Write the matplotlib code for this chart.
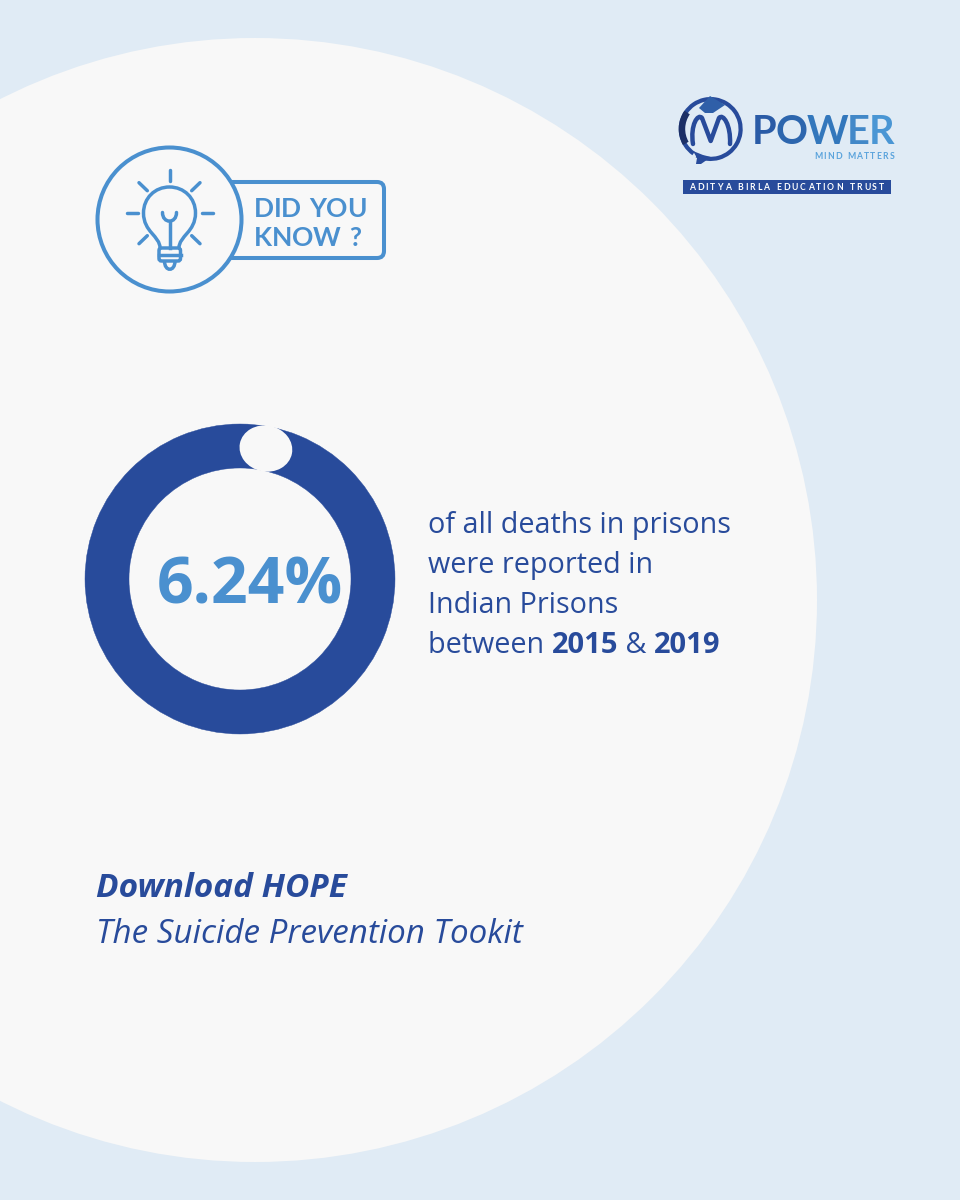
import matplotlib
matplotlib.use("Agg")
import matplotlib.pyplot as plt
import numpy as np
from matplotlib.patches import Circle, Wedge, FancyBboxPatch, PathPatch, Rectangle, Polygon, Ellipse
from matplotlib.path import Path

# ---- data ----
share_pct = 6.24
share_label = "6.24%"
desc_lines = ["of all deaths in prisons", "were reported in", "Indian Prisons"]
year_start = "2015"
year_end = "2019"
cta_bold = "Download HOPE"
cta_light = "The Suicide Prevention Tookit"
logo_letters = "POWER"

BG = "#E0EBF5"
PANEL = "#F8F8F8"
NAVY = "#284B9B"
SKY = "#4A90CF"
FONT = "Open Sans"

fig = plt.figure(figsize=(9.6, 12), dpi=100, facecolor=BG)
ax = fig.add_axes([0, 0, 1, 1])
ax.set_xlim(0, 960)
ax.set_ylim(1200, 0)
ax.axis("off")
ax.add_patch(Rectangle((0, 0), 960, 1200, fc=BG, ec="none", zorder=0))
ax.add_patch(Circle((255, 600), 562, fc=PANEL, ec="none", zorder=1))
renderer = fig.canvas.get_renderer()

# ---- donut ----
cx, cy, R, r_in = 240, 579, 155, 111
gap = share_pct / 100 * 360
ax.add_patch(Wedge((cx, cy), R, -90 + gap / 2, 270 + gap / 2, width=R - r_in,
                   fc=NAVY, ec=NAVY, lw=0.3, zorder=3))
mid = -90 + gap / 2
ax.add_patch(Ellipse((cx + 133 * np.cos(np.radians(mid)), cy + 133 * np.sin(np.radians(mid))),
                     46, 53, angle=mid, fc=PANEL, ec="none", zorder=4))
ax.text(249.5, 604, share_label, color=SKY, fontsize=46.3, fontweight="bold", family=FONT,
        ha="center", va="baseline", zorder=5)

# ---- description ----
fs = 20.7
baselines = [533, 573, 613, 653]
for line, y in zip(desc_lines, baselines):
    ax.text(428, y, line, color=NAVY, fontsize=fs, family=FONT, va="baseline", zorder=5)

x = 428
for s, w, size in [("between ", "normal", fs), (year_start, "bold", 20.95),
                   (" & ", "normal", fs), (year_end, "bold", 20.95)]:
    t = ax.text(x, baselines[3], s.replace(" ", "\u00a0"), color=NAVY, fontsize=size, family=FONT,
                fontweight=w, va="baseline", zorder=5)
    x = t.get_window_extent(renderer).x1

# ---- call to action ----
ax.text(96.5, 897, cta_bold, color=NAVY, fontsize=24.05, family=FONT, fontweight="bold",
        style="italic", va="baseline", zorder=5)
ax.text(96.5, 943, cta_light, color=NAVY, fontsize=23.85, family=FONT,
        style="italic", va="baseline", zorder=5)

# ---- "did you know" badge ----
lw = 2.9
thin = 2.5
ax.add_patch(FancyBboxPatch((200, 182), 184, 76, boxstyle="round,pad=0,rounding_size=7",
                            fc=PANEL, ec=SKY, lw=lw, zorder=3))
ax.add_patch(Circle((169.5, 219.5), 72, fc=PANEL, ec=SKY, lw=lw, zorder=4))
rays = [((169.5, 170), (169.5, 181)), ((127, 213), (138, 213)), ((202, 213), (213, 213)),
        ((139, 182.7), (147.3, 190.7)), ((200, 182.7), (191.7, 190.7)),
        ((139, 243.7), (147.3, 235.7)), ((200, 243.7), (191.7, 235.7))]
for a, b in rays:
    ax.plot([a[0], b[0]], [a[1], b[1]], color=SKY, lw=thin, solid_capstyle="round", zorder=5)
bulb = Path([(160, 248), (160, 236), (143.5, 232), (143.5, 213), (143.5, 198), (155, 187), (169.5, 187),
             (184, 187), (195.5, 198), (195.5, 213), (195.5, 232), (179, 236), (179, 248)],
            [Path.MOVETO] + [Path.CURVE4] * 12)
ax.add_patch(PathPatch(bulb, fc="none", ec=SKY, lw=thin, zorder=5))
ax.add_patch(FancyBboxPatch((159, 248), 21.5, 13, boxstyle="round,pad=0,rounding_size=2.5",
                            fc="none", ec=SKY, lw=thin, zorder=5))
ax.plot([159, 180.5], [254.5, 254.5], color=SKY, lw=thin, zorder=5)
tip = Path([(164.5, 261), (164.5, 272), (175, 272), (175, 261)], [Path.MOVETO] + [Path.CURVE4] * 3)
ax.add_patch(PathPatch(tip, fc="none", ec=SKY, lw=thin, zorder=5))
ax.plot([169.5, 169.5], [222, 248], color=SKY, lw=thin, zorder=5)
fil = Path([(162.5, 212.5), (162.5, 224), (176.5, 224), (176.5, 212.5)], [Path.MOVETO] + [Path.CURVE4] * 3)
ax.add_patch(PathPatch(fil, fc="none", ec=SKY, lw=thin, capstyle="round", zorder=5))


def tracked(s, x0, x1, base, size, color, weight="normal", family=FONT, z=6):
    """Place a string character by character so that it spans x0..x1."""
    chars = [c for c in s]
    arts = [ax.text(0, base, c, fontsize=size, color=color, fontweight=weight, family=family,
                    va="baseline", ha="left", zorder=z) for c in chars]
    ws = [size * 0.45 if c == " " else a.get_window_extent(renderer).width for c, a in zip(chars, arts)]
    extra = (x1 - x0 - sum(ws)) / max(len(chars) - 1, 1)
    xp = x0
    for a, w in zip(arts, ws):
        a.set_x(xp)
        xp += w + extra


tracked("DID YOU", 254, 367, 217, 19, SKY, "bold", "Lato")
tracked("KNOW ?", 254, 361, 246, 19, SKY, "bold", "Lato")

# ---- logo ----
ax.add_patch(Wedge((710.7, 129), 32, 125, 478, width=4.2, fc=NAVY, ec="none", zorder=3))
ax.add_patch(Wedge((710.7, 129), 32, 150, 215, width=6.5, fc="#1C2F66", ec="none", zorder=3))
ax.add_patch(Polygon([(693, 151), (703, 155), (711, 157), (701, 164), (696, 164), (697, 158)],
                     fc=NAVY, ec="none", zorder=3))
ax.add_patch(Polygon([(699, 108), (710, 96), (725, 105), (713, 113), (705, 113)],
                     fc="#2F5FA8", ec="none", zorder=4))
m_path = Path([(693, 144), (690, 125), (698, 113), (702, 118), (710.7, 141),
               (719, 118), (723, 113), (731, 125), (730, 144)],
              [Path.MOVETO, Path.CURVE4, Path.CURVE4, Path.CURVE4, Path.LINETO,
               Path.LINETO, Path.CURVE4, Path.CURVE4, Path.CURVE4])
ax.add_patch(PathPatch(m_path, fc="none", ec=NAVY, lw=3.2, capstyle="round", joinstyle="round", zorder=5))

power_colors = ["#2A5BA6", "#2D66AE", "#3377BC", "#4288C8", "#4A96D4"]
arts = [ax.text(0, 144.5, ch, color=col, fontsize=28.5, family="Lato", fontweight="bold",
                va="baseline", zorder=5) for ch, col in zip(logo_letters, power_colors)]
widths = [a.get_window_extent(renderer).width for a in arts]
extra = (142 - sum(widths)) / (len(arts) - 1)
xp = 752
for a, w in zip(arts, widths):
    a.set_x(xp)
    xp += w + extra
tracked("MIND MATTERS", 814, 894, 159, 6.2, "#5AA3DC", "bold", "Lato")
ax.add_patch(Rectangle((682.7, 180), 208.3, 14, fc=NAVY, ec="none", zorder=3))
tracked("ADITYA BIRLA EDUCATION TRUST", 689, 884, 190.5, 6.2, "white", "bold", "Lato")

fig.savefig("out.png", dpi=100, facecolor=BG)
